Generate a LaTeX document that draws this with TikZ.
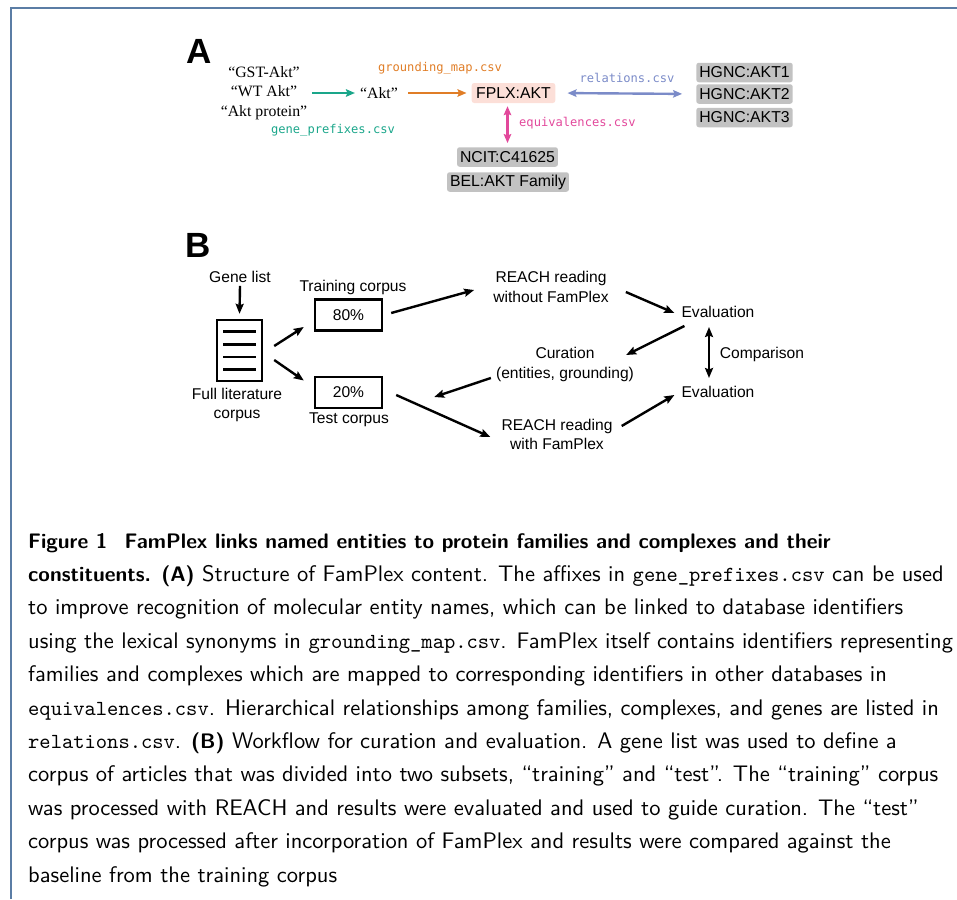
\documentclass[tikz,border=0pt]{standalone}
\usepackage{fontspec}
\usetikzlibrary{arrows.meta,calc}
\newfontfamily\arialf{Liberation Sans}
\newfontfamily\timesf{Liberation Serif}
\newfontfamily\monof{DejaVu Sans Mono}
\newfontfamily\capsf{lmsans10-regular}[Extension=.otf,BoldFont=lmsans10-bold]
\newfontfamily\captt{lmmono10-regular}[Extension=.otf]
\newcommand\ctt[1]{{\captt\fontsize{21.5}{33.4}\selectfont #1}}
\newcommand\cbf[1]{{\fontsize{21}{33.4}\selectfont\bfseries #1}}
\definecolor{frameblue}{HTML}{5B7DA5}
\definecolor{gpgreen}{HTML}{1AA68A}
\definecolor{gmorange}{HTML}{E07D26}
\definecolor{relblue}{HTML}{7B8BC8}
\definecolor{eqpink}{HTML}{E2489B}
\definecolor{boxgray}{HTML}{C2C2C2}
\definecolor{fplxpink}{HTML}{FCDFD8}
\begin{document}
\begin{tikzpicture}[x=1pt,y=-1pt,
  panellabel/.style={font=\arialf\bfseries\fontsize{35}{35}\selectfont, inner sep=0},
  quote/.style={font=\timesf\fontsize{15.8}{19.5}\selectfont, align=center, inner sep=2},
  csv/.style={font=\monof\fontsize{12.1}{14}\selectfont, inner sep=0},
  idbox/.style={font=\arialf\fontsize{15.8}{18}\selectfont, fill=boxgray, rounded corners=2.5,
    inner xsep=3, inner ysep=1, minimum height=19.5},
  fplxbox/.style={idbox, fill=fplxpink, inner xsep=4.5, minimum height=20},
  wtext/.style={font=\arialf\fontsize{15.6}{19.5}\selectfont, align=center, inner sep=2},
  pbox/.style={draw, line width=2.4, minimum width=67, minimum height=31,
    font=\arialf\fontsize{15.6}{18}\selectfont, inner sep=0},
  aarr/.style={line width=2.4, -{Stealth[length=9pt,width=7.5pt,inset=1.5pt]}},
  adbl/.style={line width=2.4, {Stealth[length=9pt,width=7.5pt,inset=1.5pt]}-{Stealth[length=9pt,width=7.5pt,inset=1.5pt]}},
  barr/.style={line width=2.4, -{Stealth[length=10pt,width=8pt,inset=1.5pt]}},
  bdbl/.style={line width=2.4, {Stealth[length=10pt,width=8pt,inset=1.5pt]}-{Stealth[length=10pt,width=8pt,inset=1.5pt]}},
  capline/.style={anchor=base west, inner sep=0, font=\capsf\fontsize{22.5}{33.4}\selectfont}
]
\useasboundingbox (0,0) rectangle (957,899);
\draw[frameblue, line width=1.6] (11,899) -- (11,8) -- (957,8);

% ---------- Panel A ----------
\node[panellabel] (lA) at (199,51) {A};
\node[quote] (quotes) at (264,93) {“GST-Akt”\\“WT Akt”\\“Akt protein”};
\node[quote] (akt) at (379,93) {“Akt”};
\node[fplxbox] (fplx) at (513.5,93) {FPLX:AKT};
\node[idbox] (h1) at (744.5,72.5) {HGNC:AKT1};
\node[idbox] (h2) at (744.5,94) {HGNC:AKT2};
\node[idbox] (h3) at (744.5,117.5) {HGNC:AKT3};
\node[idbox] (ncit) at (507.5,157) {NCIT:C41625};
\node[idbox] (bel) at (508,182) {BEL:AKT Family};
\node[csv, text=gmorange] (gm) at (440,68) {grounding\_map.csv};
\node[csv, text=gpgreen] (gp) at (333,130) {gene\_prefixes.csv};
\node[csv, text=relblue] (rel) at (627,78) {relations.csv};
\node[csv, text=eqpink, anchor=west] (eq) at (519,123) {equivalences.csv};

\draw[aarr, gpgreen, shorten <=3pt, shorten >=3pt] (quotes.east) -- (akt.west);
\draw[aarr, gmorange, shorten <=8pt, shorten >=5pt] (akt.east) -- (fplx.west);
\draw[adbl, relblue, shorten <=12pt, shorten >=14pt] (fplx.east) -- (h2.west);
\draw[adbl, eqpink, shorten <=3pt, shorten >=4pt] (ncit.north |- fplx.south) -- (ncit.north);

% ---------- Panel B ----------
\node[panellabel] (lB) at (198,245) {B};
\node[wtext] (gene) at (240,277) {Gene list};
\node[draw, line width=2.4, minimum width=45, minimum height=61, inner sep=0] (doc) at (239.5,350.5) {};
\foreach \dy in {-19,-6.3,6.3,19}
  \draw[line width=2.6] ($(doc.center)+(-16.5,\dy)$) -- ++(33,0);
\node[wtext] (full) at (237,405) {Full literature\\corpus};
\node[wtext] (train) at (353,287) {Training corpus};
\node[pbox] (b80) at (348.5,315) {80\%};
\node[pbox] (b20) at (348.5,392.5) {20\%};
\node[wtext] (test) at (349,420) {Test corpus};
\node[wtext] (reach1) at (551,287) {REACH reading\\without FamPlex};
\node[wtext] (eval1) at (718,312) {Evaluation};
\node[wtext] (cur) at (565,364.5) {Curation\\(entities, grounding)};
\node[wtext] (eval2) at (718,392) {Evaluation};
\node[wtext] (comp) at (762,354) {Comparison};
\node[wtext] (reach2) at (557,434.5) {REACH reading\\with FamPlex};

\draw[barr] ($(gene.south)+(0,1)$) -- ($(doc.north)+(0,-5)$);
\draw[barr] ($(doc.east)+(11,-4.5)$) -- ($(b80.west)+(-10,12)$);
\draw[barr] ($(doc.east)+(11,9.5)$) -- ($(b20.west)+(-10,-12)$);
\draw[barr] ($(b80.east)+(8,-2)$) -- ($(reach1.west)+(-17,3)$);
\draw[barr] ($(reach1.east)+(15,5)$) -- ($(eval1.west)+(-5,1)$);
\draw[barr] ($(eval1.west)+(5,14)$) -- ($(cur.east)+(-10,-9.5)$);
\draw[barr] ($(cur.west)+(-3,13.5)$) -- ($(b20.east)+(51,4.5)$);
\draw[barr] ($(b20.east)+(13,2.5)$) -- ($(reach2.west)+(-9,2.5)$);
\draw[barr] ($(reach2.east)+(7,-8.5)$) -- ($(eval2.west)+(-5,3)$);
\draw[bdbl] ($(eval1.center)+(-9,15)$) -- ($(eval2.center)+(-9,-14)$);

% ---------- Caption ----------
\node[capline] (c1) at (28,548) {\cbf{Figure 1\hspace{0.45em} FamPlex links named entities to protein families and complexes and their}};
\node[capline] (c2) at (28,581.4) {\cbf{constituents. (A)} Structure of FamPlex content. The affixes in \ctt{gene\_prefixes.csv} can be used};
\node[capline] (c3) at (28,614.8) {to improve recognition of molecular entity names, which can be linked to database identifiers};
\node[capline] (c4) at (28,648.2) {using the lexical synonyms in \ctt{grounding\_map.csv}. FamPlex itself contains identifiers representing};
\node[capline] (c5) at (28,681.6) {families and complexes which are mapped to corresponding identifiers in other databases in};
\node[capline] (c6) at (28,715) {\ctt{equivalences.csv}. Hierarchical relationships among families, complexes, and genes are listed in};
\node[capline] (c7) at (28,748.4) {\ctt{relations.csv}. \cbf{(B)} Workflow for curation and evaluation. A gene list was used to define a};
\node[capline] (c8) at (28,781.8) {corpus of articles that was divided into two subsets, “training” and “test”. The “training” corpus};
\node[capline] (c9) at (28,815.2) {was processed with REACH and results were evaluated and used to guide curation. The “test”};
\node[capline] (c10) at (28,848.6) {corpus was processed after incorporation of FamPlex and results were compared against the};
\node[capline] (c11) at (28,882) {baseline from the training corpus};
\end{tikzpicture}
\end{document}
